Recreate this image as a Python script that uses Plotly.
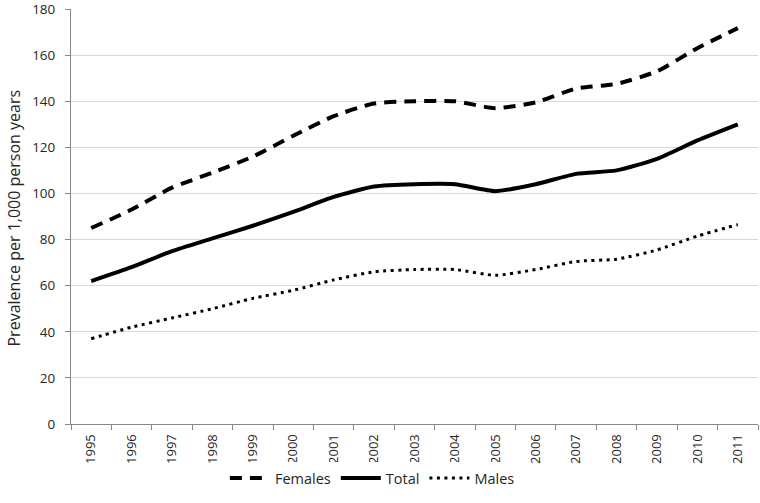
import plotly.graph_objects as go

years = [str(y) for y in range(1995, 2012)]
females = [85, 93, 102.5, 109, 116, 125, 133.5, 139, 140, 140, 137, 139.5, 145.5, 147.5, 153, 163, 171.7]
total = [62, 68, 75, 80.5, 86, 92, 98.5, 103, 104, 104, 101, 104, 108.5, 110, 115, 123, 130]
males = [37, 42, 46, 50, 54.5, 58, 62.5, 66, 67, 67, 64.5, 67, 70.5, 71.5, 75.5, 81.5, 86.5]
y_title = "Prevalence per 1,000 person years"

font = "Open Sans"
fig = go.Figure()
fig.add_trace(go.Scatter(x=years, y=females, name="Females", mode="lines",
                         line=dict(color="black", width=4, dash="12px,8px", shape="spline", smoothing=0.6)))
fig.add_trace(go.Scatter(x=years, y=total, name="Total", mode="lines",
                         line=dict(color="black", width=4, shape="spline", smoothing=0.6)))
fig.add_trace(go.Scatter(x=years, y=males, name="Males", mode="lines",
                         line=dict(color="black", width=3, dash="3px,4.5px", shape="spline", smoothing=0.6)))

fig.update_layout(
    width=760, height=503,
    margin=dict(l=71, r=2, t=9, b=79, autoexpand=False),
    paper_bgcolor="white", plot_bgcolor="white",
    font=dict(family=font, size=14, color="#262626"),
    showlegend=True,
    legend=dict(orientation="h", xref="container", x=0.49, xanchor="center", y=-0.13, yanchor="middle",
                font=dict(size=14.5, color="#262626"), traceorder="normal", itemwidth=40),
    xaxis=dict(type="category", range=[-0.5, 16.5], tickangle=-90, showgrid=False, showline=True,
               linecolor="#868686", linewidth=1, ticks="outside", tickson="boundaries",
               ticklen=5, tickcolor="#868686", tickfont=dict(size=13), ticklabelstandoff=4),
    yaxis=dict(range=[0, 180], dtick=20, showgrid=True, gridcolor="#d9d9d9", gridwidth=1,
               showline=True, linecolor="#868686", linewidth=1, ticks="outside",
               ticklen=5, tickcolor="#868686", zeroline=False, tickfont=dict(size=13.5),
               ticklabeloverflow="allow", ticklabelstandoff=7),
    annotations=[dict(text=y_title, textangle=-90, xref="paper", yref="paper", x=0, y=0.5,
                      xanchor="center", yanchor="middle", xshift=-58, yshift=-2, showarrow=False,
                      font=dict(size=16, color="#262626"))],
)
fig.write_html("out.html", config={"displayModeBar": False},
               post_script="document.body.style.margin='0';")
